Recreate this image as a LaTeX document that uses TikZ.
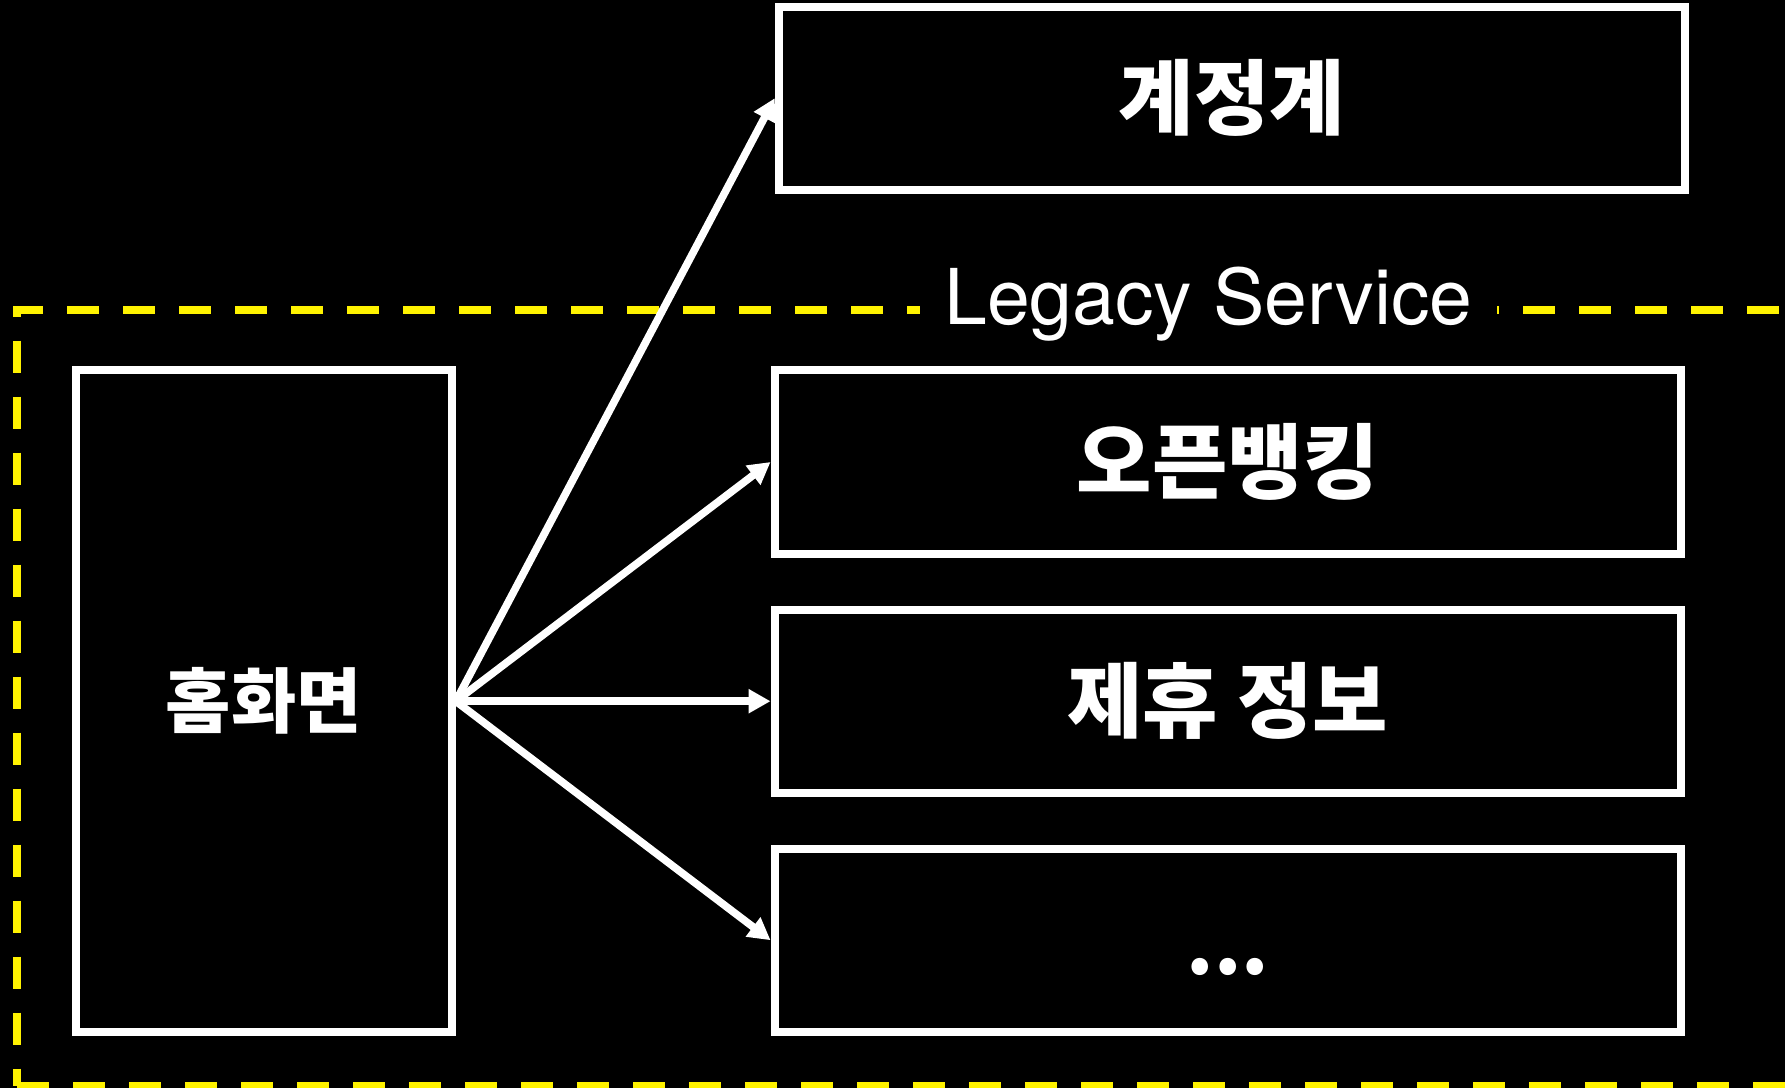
\documentclass[tikz,border=0pt]{standalone}
\usepackage{fontspec}
\newfontfamily\krfont{Noto Sans CJK KR}
\newfontfamily\heros{TeX Gyre Heros}
\usetikzlibrary{arrows.meta}

\begin{document}
\begin{tikzpicture}[x=1pt,y=-1pt,line join=miter,
    box/.style={draw=white,line width=4pt,inner sep=0pt,text=white,
      minimum width=453.25pt,minimum height=91.7pt,
      font=\krfont\bfseries\fontsize{41}{41}\selectfont},
    link/.style={draw=white,line width=3.8pt,
      -{Triangle[length=11pt,width=11.5pt]}}]
  \fill[black] (0,0) rectangle (892.5,544);
  \useasboundingbox (0,0) rectangle (892.5,544);
  % legacy area, runs past the right and bottom edge
  \draw[yellow,line width=4pt,dash pattern=on 16pt off 12pt]
    (8.65,542.85) -- (899.1,542.85) -- (899.1,155) -- (8.65,155) -- cycle;
  \node[fill=black,text=white,inner xsep=12pt,inner ysep=4pt,anchor=base,
    font=\heros\fontsize{38.5}{38.5}\selectfont] (legacy) at (604.2,162) {Legacy Service};
  % services
  \node[box] (core) at (616,49.1) {계정계};
  \node[box] (openbank) at (613.9,231) {오픈뱅킹};
  \node[box] (partner) at (613.9,350.6) {제휴 정보};
  \node[box,text height=34pt,text depth=0pt,
    font=\krfont\bfseries\fontsize{39}{39}\selectfont] (more) at (613.9,470.1) {...};
  \node[box,minimum width=188pt,minimum height=330.75pt,
    font=\krfont\bfseries\fontsize{35.5}{35.5}\selectfont] (home) at (131.9,350.6) {홈화면};
  \foreach \t in {core,openbank,partner,more}
    \draw[link] (home.east) -- (\t.west);
\end{tikzpicture}
\end{document}
